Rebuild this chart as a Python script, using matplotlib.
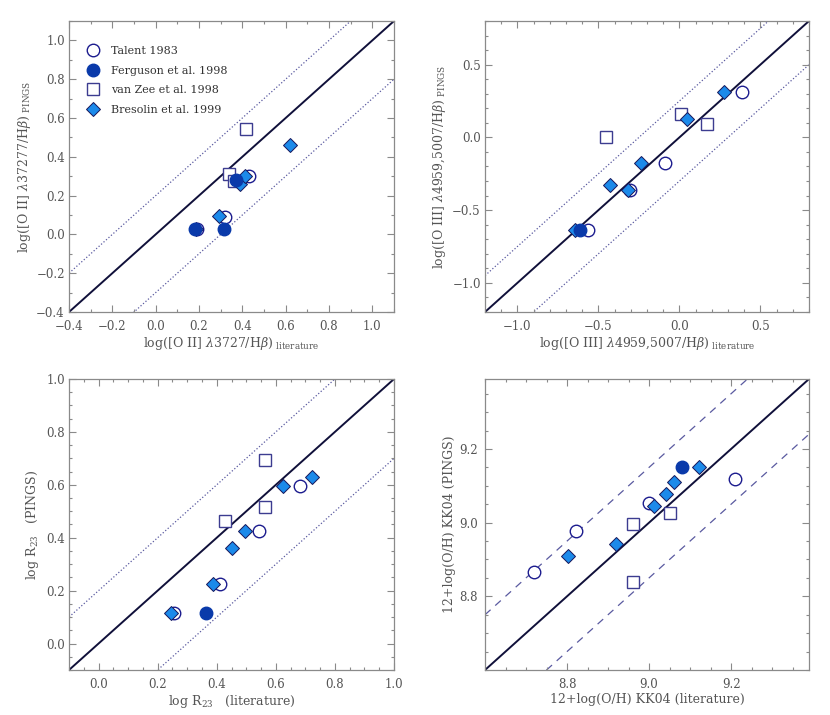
import matplotlib
matplotlib.use("Agg")
import matplotlib.pyplot as plt
from matplotlib.ticker import MultipleLocator, FixedLocator

# ---- data ----
# panel 1: [O II] 3727 / Hbeta
o2_talent_x = [0.19, 0.32, 0.43]
o2_talent_y = [0.03, 0.09, 0.30]
o2_ferg_x = [0.18, 0.315, 0.371]
o2_ferg_y = [0.03, 0.03, 0.28]
o2_zee_x = [0.417, 0.34, 0.363]
o2_zee_y = [0.545, 0.31, 0.275]
o2_bres_x = [0.62, 0.29, 0.186, 0.39, 0.41]
o2_bres_y = [0.462, 0.093, 0.03, 0.26, 0.30]

# panel 2: [O III] 4959,5007 / Hbeta
o3_talent_x = [0.386, -0.086, -0.306, -0.563]
o3_talent_y = [0.311, -0.174, -0.364, -0.634]
o3_ferg_x = [-0.614]
o3_ferg_y = [-0.634]
o3_zee_x = [-0.454, 0.012, 0.171]
o3_zee_y = [0.0, 0.16, 0.094]
o3_bres_x = [0.275, 0.045, -0.238, -0.429, -0.316, -0.645]
o3_bres_y = [0.311, 0.128, -0.174, -0.325, -0.364, -0.634]

# panel 3: log R23
r23_talent_x = [0.681, 0.543, 0.412, 0.255]
r23_talent_y = [0.597, 0.427, 0.224, 0.114]
r23_ferg_x = [0.365]
r23_ferg_y = [0.114]
r23_zee_x = [0.562, 0.564, 0.428]
r23_zee_y = [0.693, 0.518, 0.464]
r23_bres_x = [0.722, 0.625, 0.494, 0.45, 0.387, 0.244]
r23_bres_y = [0.628, 0.597, 0.427, 0.36, 0.224, 0.114]

# panel 4: 12+log(O/H) KK04
oh_talent_x = [8.72, 8.821, 9.0, 9.209]
oh_talent_y = [8.867, 8.976, 9.054, 9.119]
oh_ferg_x = [9.08]
oh_ferg_y = [9.150]
oh_zee_x = [8.96, 9.05, 8.96]
oh_zee_y = [8.996, 9.026, 8.839]
oh_bres_x = [8.802, 8.92, 9.011, 9.041, 9.06, 9.121]
oh_bres_y = [8.909, 8.943, 9.044, 9.078, 9.111, 9.150]
oh_ticks = [8.8, 9.0, 9.2]

labels = ["Talent 1983", "Ferguson et al. 1998", "van Zee et al. 1998", "Bresolin et al. 1999"]

# colours
c_open = "#1c1c8e"
c_fill = "#0a3aaa"
c_sq = "#3c3c90"
c_dia = "#1c8aea"
c_edge = "#16165a"
c_guide = "#5a5aa0"
c_axis = "#8a8a8a"
c_text = "#555555"

plt.rcParams["font.family"] = ["DejaVu Serif"]
plt.rcParams["mathtext.fontset"] = "dejavuserif"

fig = plt.figure(figsize=(8.3, 7.15), dpi=100)
W, H = 830.0, 715.0


def make_axes(left, top, right, bottom):
    return fig.add_axes([left / W, 1 - bottom / H, (right - left) / W, (bottom - top) / H])


def style(ax, lo, hi, major, minor, ypad=3):
    ax.set_xlim(lo, hi)
    ax.set_ylim(lo, hi)
    ax.xaxis.set_major_locator(MultipleLocator(major))
    ax.yaxis.set_major_locator(MultipleLocator(major))
    ax.xaxis.set_minor_locator(MultipleLocator(minor))
    ax.yaxis.set_minor_locator(MultipleLocator(minor))
    ax.tick_params(which="both", direction="in", top=True, right=True, color=c_axis,
                   labelcolor=c_text, labelsize=8.5)
    ax.tick_params(which="major", length=5, width=0.8)
    ax.tick_params(which="minor", length=2.5, width=0.8)
    ax.tick_params(axis="x", pad=6)
    ax.tick_params(axis="y", pad=ypad)
    for s in ax.spines.values():
        s.set_color(c_axis)
        s.set_linewidth(0.9)


def draw(ax, lo, hi, up, down, guide_ls, tx, ty, fx, fy, zx, zy, bx, by):
    ax.plot([lo, hi], [lo, hi], color="#10103a", lw=1.4, zorder=2)
    ax.plot([lo, hi], [lo + up, hi + up], color=c_guide, lw=0.9, ls=guide_ls, zorder=1)
    ax.plot([lo, hi], [lo - down, hi - down], color=c_guide, lw=0.9, ls=guide_ls, zorder=1)
    h1, = ax.plot(tx, ty, "o", ms=9, mfc="white", mec=c_open, mew=1.0, ls="none", zorder=3)
    h3, = ax.plot(zx, zy, "s", ms=8.5, mfc="white", mec=c_sq, mew=1.0, ls="none", zorder=4)
    h4, = ax.plot(bx, by, "D", ms=7.3, mfc=c_dia, mec=c_edge, mew=0.7, ls="none", zorder=5)
    h2, = ax.plot(fx, fy, "o", ms=9, mfc=c_fill, mec=c_fill, mew=1.0, ls="none", zorder=6)
    return [h1, h2, h3, h4]


# panel 1
ax1 = make_axes(69, 21, 394, 312)
hs = draw(ax1, -0.4, 1.1, 0.2, 0.3, ":", o2_talent_x, o2_talent_y, o2_ferg_x, o2_ferg_y,
          o2_zee_x, o2_zee_y, o2_bres_x, o2_bres_y)
style(ax1, -0.4, 1.1, 0.2, 0.1)
ax1.set_xlabel(r"log([O II] $\lambda$3727/H$\beta$)$\;_{\rm literature}$", color=c_text, fontsize=9, labelpad=1)
ax1.set_ylabel(r"log([O II] $\lambda$37277/H$\beta$)$\;_{\rm PINGS}$", color=c_text, fontsize=9)
ax1.yaxis.set_label_coords(-0.111, 0.5)
ax1.legend(hs, labels, loc="upper left", bbox_to_anchor=(0.015, 0.94), frameon=False,
           fontsize=8, labelspacing=0.85, handletextpad=0.6, labelcolor="#333333",
           borderaxespad=0.3)

# panel 2
ax2 = make_axes(485, 21, 809, 312)
draw(ax2, -1.2, 0.8, 0.25, 0.3, ":", o3_talent_x, o3_talent_y, o3_ferg_x, o3_ferg_y,
     o3_zee_x, o3_zee_y, o3_bres_x, o3_bres_y)
style(ax2, -1.2, 0.8, 0.5, 0.1)
ax2.set_xlabel(r"log([O III] $\lambda$4959,5007/H$\beta$)$\;_{\rm literature}$", color=c_text, fontsize=9, labelpad=1)
ax2.set_ylabel(r"log([O III] $\lambda$4959,5007/H$\beta$)$\;_{\rm PINGS}$", color=c_text, fontsize=9)
ax2.yaxis.set_label_coords(-0.114, 0.5)

# panel 3
ax3 = make_axes(69, 379, 394, 670)
draw(ax3, -0.1, 1.0, 0.2, 0.3, ":", r23_talent_x, r23_talent_y, r23_ferg_x, r23_ferg_y,
     r23_zee_x, r23_zee_y, r23_bres_x, r23_bres_y)
style(ax3, -0.1, 1.0, 0.2, 0.05)
ax3.set_xlabel(r"log R$_{23}$   (literature)", color=c_text, fontsize=9, labelpad=1)
ax3.set_ylabel(r"log R$_{23}$   (PINGS)", color=c_text, fontsize=9)
ax3.yaxis.set_label_coords(-0.086, 0.5)

# panel 4
ax4 = make_axes(485, 379, 809, 670)
draw(ax4, 8.6, 9.39, 0.15, 0.15, (0, (6, 5)), oh_talent_x, oh_talent_y, oh_ferg_x, oh_ferg_y,
     oh_zee_x, oh_zee_y, oh_bres_x, oh_bres_y)
style(ax4, 8.6, 9.39, 0.2, 0.05, ypad=5)
ax4.xaxis.set_major_locator(FixedLocator(oh_ticks))
ax4.yaxis.set_major_locator(FixedLocator(oh_ticks))
ax4.set_xlabel("12+log(O/H) KK04 (literature)", color=c_text, fontsize=9, labelpad=1)
ax4.set_ylabel("12+log(O/H) KK04 (PINGS)", color=c_text, fontsize=9)
ax4.yaxis.set_label_coords(-0.0895, 0.5)

fig.savefig("out.png", dpi=100)
